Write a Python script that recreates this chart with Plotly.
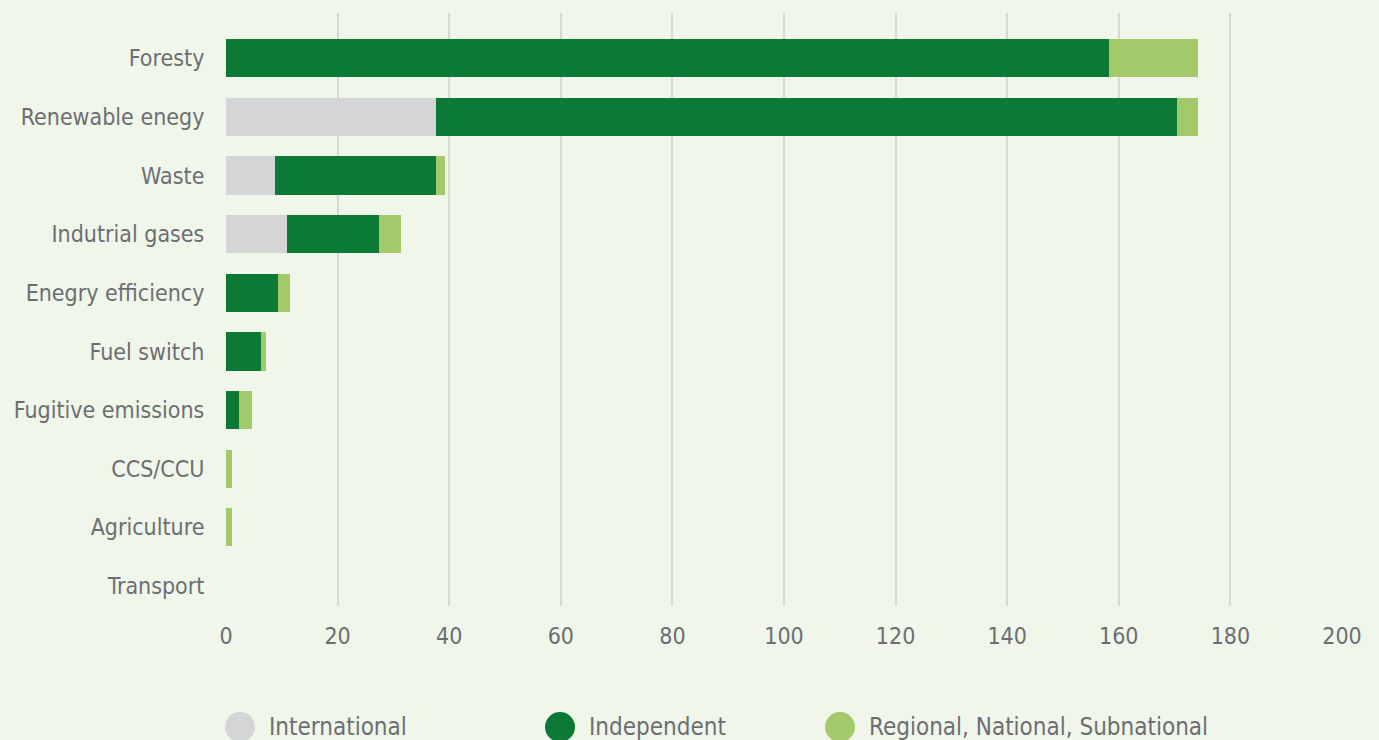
import plotly.graph_objects as go

categories = ["Foresty", "Renewable enegy", "Waste", "Indutrial gases", "Enegry efficiency",
              "Fuel switch", "Fugitive emissions", "CCS/CCU", "Agriculture", "Transport"]
international = [0, 37.7, 8.8, 11.0, 0, 0, 0, 0, 0, 0]
independent = [158.3, 132.7, 28.9, 16.5, 9.3, 6.3, 2.3, 0, 0, 0]
regional = [15.9, 3.8, 1.5, 3.8, 2.2, 0.9, 2.3, 1.1, 1.1, 0]
series_names = ["International", "Independent", "Regional, National, Subnational"]
colors = ["#d4d5d7", "#0c7a36", "#a2c96a"]
x_ticks = [0, 20, 40, 60, 80, 100, 120, 140, 160, 180, 200]

BG = "#f0f6e9"
TXT = "#6d6e71"
FONT = "DejaVu Sans Condensed"

W, H = 1379, 740
ML, MR, MT, MB = 226, 37, 13, 134
PW, PH = W - ML - MR, H - MT - MB

fig = go.Figure()
for name, vals, col in zip(series_names, [international, independent, regional], colors):
    fig.add_trace(go.Bar(y=categories, x=vals, orientation="h", name=name,
                         marker=dict(color=col, line=dict(width=0)), width=0.65,
                         showlegend=False))

# custom legend: circles + text
legend_marker_px = [240, 560, 840]
legend_y_px = 727
shapes, annotations = [], []
for name, col, mx in zip(series_names, colors, legend_marker_px):
    xp = (mx - ML) / PW
    yp = (H - MB - legend_y_px) / PH
    shapes.append(dict(type="circle", xref="paper", yref="paper",
                       xsizemode="pixel", ysizemode="pixel", xanchor=xp, yanchor=yp,
                       x0=-15, x1=15, y0=-15, y1=15,
                       fillcolor=col, line=dict(width=0)))
    annotations.append(dict(text=name, xref="paper", yref="paper",
                            x=(mx + 27 - ML) / PW, y=yp, xanchor="left", yanchor="middle",
                            showarrow=False,
                            font=dict(family=FONT, size=24, color=TXT)))

fig.update_layout(
    barmode="stack",
    width=W, height=H,
    paper_bgcolor=BG, plot_bgcolor=BG,
    margin=dict(l=ML, r=MR, t=MT, b=MB),
    font=dict(family=FONT, size=23, color=TXT),
    showlegend=False,
    shapes=shapes, annotations=annotations,
    xaxis=dict(range=[0, 200], tickvals=x_ticks, showgrid=True, gridcolor="#d6dad3",
               gridwidth=2, zeroline=False, showline=False, ticks="outside",
               ticklen=9, tickcolor="rgba(0,0,0,0)", tickfont=dict(size=23, color=TXT)),
    yaxis=dict(type="category", categoryorder="array", categoryarray=categories,
               range=[9.34, -0.77], showgrid=False, zeroline=False, showline=False,
               ticks="outside", ticklen=16, tickcolor="rgba(0,0,0,0)",
               tickfont=dict(size=23, color=TXT)),
)

fig.write_html("out.html", config={"displayModeBar": False},
               post_script="document.body.style.margin='0';document.body.style.background='%s';" % BG)
